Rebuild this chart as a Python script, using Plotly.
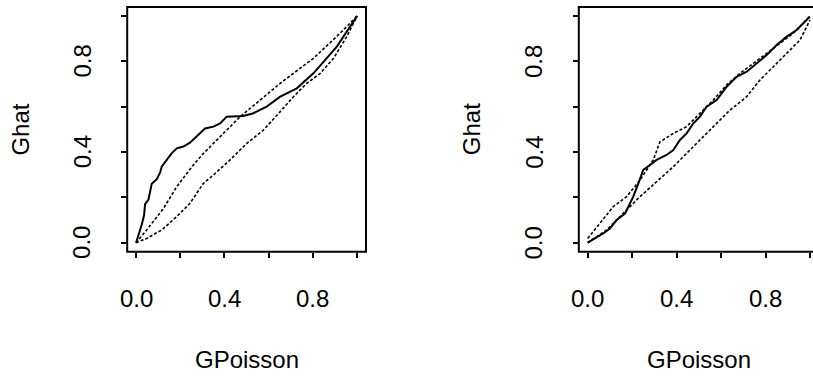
import plotly.graph_objects as go

# ---------------- data ----------------
# Left panel
left_solid_x = [0, 0.01, 0.02, 0.026, 0.036, 0.041, 0.056, 0.063, 0.071, 0.094, 0.109, 0.116,
                0.139, 0.161, 0.184, 0.214, 0.244, 0.275, 0.312, 0.35, 0.38, 0.41, 0.456, 0.486,
                0.531, 0.591, 0.652, 0.727, 0.802, 0.863, 0.908, 0.953, 1.0]
left_solid_y = [0, 0.03, 0.055, 0.08, 0.12, 0.17, 0.19, 0.23, 0.26, 0.28, 0.31, 0.335,
                0.365, 0.394, 0.416, 0.424, 0.441, 0.468, 0.504, 0.512, 0.526, 0.556, 0.559, 0.559,
                0.571, 0.6, 0.644, 0.681, 0.747, 0.813, 0.865, 0.931, 1.0]
left_upper_x = [0, 0.048, 0.124, 0.184, 0.259, 0.305, 0.395, 0.471, 0.561, 0.652, 0.802, 0.923, 1.0]
left_upper_y = [0, 0.056, 0.151, 0.247, 0.343, 0.394, 0.482, 0.556, 0.629, 0.703, 0.813, 0.924, 1.0]
left_lower_x = [0, 0.048, 0.116, 0.184, 0.244, 0.305, 0.35, 0.425, 0.501, 0.576, 0.652, 0.712,
                0.772, 0.833, 0.893, 0.953, 1.0]
left_lower_y = [0, 0.019, 0.056, 0.115, 0.174, 0.262, 0.299, 0.365, 0.438, 0.497, 0.578, 0.644,
                0.703, 0.747, 0.813, 0.909, 1.0]

# Right panel
right_solid_x = [0, 0.025, 0.07, 0.1, 0.13, 0.168, 0.183, 0.205, 0.228, 0.25, 0.28, 0.31, 0.355,
                 0.385, 0.415, 0.445, 0.475, 0.505, 0.535, 0.58, 0.625, 0.67, 0.715, 0.76, 0.805,
                 0.85, 0.895, 0.94, 1.0]
right_solid_y = [0, 0.015, 0.041, 0.063, 0.1, 0.129, 0.159, 0.203, 0.262, 0.321, 0.343, 0.365, 0.387,
                 0.409, 0.453, 0.482, 0.526, 0.556, 0.6, 0.629, 0.688, 0.732, 0.754, 0.791, 0.828,
                 0.872, 0.909, 0.938, 0.997]
right_upper_x = [0, 0.055, 0.115, 0.175, 0.235, 0.295, 0.325, 0.385, 0.445, 0.505, 0.565, 0.625,
                 0.685, 0.745, 0.805, 0.865, 0.925, 1.0]
right_upper_y = [0.019, 0.085, 0.159, 0.203, 0.276, 0.365, 0.445, 0.482, 0.512, 0.571, 0.629, 0.696,
                 0.747, 0.791, 0.835, 0.879, 0.924, 1.0]
right_lower_x = [0, 0.085, 0.19, 0.235, 0.31, 0.385, 0.46, 0.535, 0.58, 0.64, 0.715, 0.775, 0.835,
                 0.91, 0.955, 1.0]
right_lower_y = [0, 0.056, 0.159, 0.203, 0.269, 0.335, 0.409, 0.482, 0.526, 0.585, 0.644, 0.718,
                 0.776, 0.85, 0.894, 0.982]

tick_vals = [0, 0.2, 0.4, 0.6, 0.8, 1.0]
tick_labels = ["0.0", "0.4", "0.8"]
tick_label_vals = [0, 0.4, 0.8]
x_title = "GPoisson"
y_title = "Ghat"

# ---------------- layout geometry ----------------
W, H = 813, 376
FONT = "Liberation Sans, Arial, Helvetica, sans-serif"
FS = 24
box_top_px, box_bot_px = 6.9, 251.8
ydom = [1 - box_bot_px / H, 1 - box_top_px / H]
left_box = (127.2, 366.0)
right_box = (578.8, 818.9)
left_dom = [left_box[0] / W, left_box[1] / W]
right_dom = [right_box[0] / W, 1.0]
# visible right range end (image cuts the right panel)
r_scale = (right_box[1] - right_box[0]) / 1.08
r_end = -0.04 + (W - right_box[0]) / r_scale

fig = go.Figure()

def add_panel(xs, ys, xa, ya):
    (sx, sy), (ux, uy), (lx, ly) = xs
    fig.add_trace(go.Scatter(x=ux, y=uy, mode="lines", xaxis=xa, yaxis=ya,
                             line=dict(color="black", width=1.6, dash="3px,2px"), showlegend=False))
    fig.add_trace(go.Scatter(x=lx, y=ly, mode="lines", xaxis=xa, yaxis=ya,
                             line=dict(color="black", width=1.6, dash="3px,2px"), showlegend=False))
    fig.add_trace(go.Scatter(x=sx, y=sy, mode="lines", xaxis=xa, yaxis=ya,
                             line=dict(color="black", width=2), showlegend=False))

add_panel([(left_solid_x, left_solid_y), (left_upper_x, left_upper_y), (left_lower_x, left_lower_y)], None, "x", "y")
add_panel([(right_solid_x, right_solid_y), (right_upper_x, right_upper_y), (right_lower_x, right_lower_y)], None, "x2", "y2")

axis_common = dict(showgrid=False, zeroline=False, showline=False, ticks="outside",
                   ticklen=5, tickwidth=1.5, tickcolor="black", tickvals=tick_vals,
                   showticklabels=False, fixedrange=True)

fig.update_layout(
    width=W, height=H, margin=dict(l=0, r=0, t=0, b=0),
    paper_bgcolor="white", plot_bgcolor="white",
    font=dict(family=FONT, size=FS, color="black"),
    xaxis=dict(domain=left_dom, range=[-0.04, 1.04], anchor="y", **axis_common),
    yaxis=dict(domain=ydom, range=[-0.04, 1.04], anchor="x", **axis_common),
    xaxis2=dict(domain=right_dom, range=[-0.04, r_end], anchor="y2", **axis_common),
    yaxis2=dict(domain=ydom, range=[-0.04, 1.04], anchor="x2", **axis_common),
)

# box frames (paper coordinates; right one extends past the image edge)
for (x0, x1) in (left_box, right_box):
    fig.add_shape(type="rect", xref="paper", yref="paper",
                  x0=x0 / W, x1=x1 / W, y0=ydom[0], y1=ydom[1],
                  line=dict(color="black", width=2), fillcolor="rgba(0,0,0,0)", layer="above")

ann = []
for xa, ya, box in (("x", "y", left_box), ("x2", "y2", right_box)):
    for v, t in zip(tick_label_vals, tick_labels):
        ann.append(dict(x=v, y=1 - 298 / H, xref=xa, yref="paper", text=t, showarrow=False,
                        xanchor="center", yanchor="middle", font=dict(size=FS)))
        ann.append(dict(x=(box[0] - 45) / W, y=v, xref="paper", yref=ya, text=t, showarrow=False,
                        textangle=-90, xanchor="center", yanchor="middle", font=dict(size=FS)))
    ann.append(dict(x=0.5, y=1 - 359 / H, xref=xa, yref="paper", text=x_title, showarrow=False,
                    xanchor="center", yanchor="middle", font=dict(size=FS)))
    ann.append(dict(x=(box[0] - 107) / W, y=0.5, xref="paper", yref=ya, text=y_title, showarrow=False,
                    textangle=-90, xanchor="center", yanchor="middle", font=dict(size=FS)))
fig.update_layout(annotations=ann)

fig.write_html("out.html")
